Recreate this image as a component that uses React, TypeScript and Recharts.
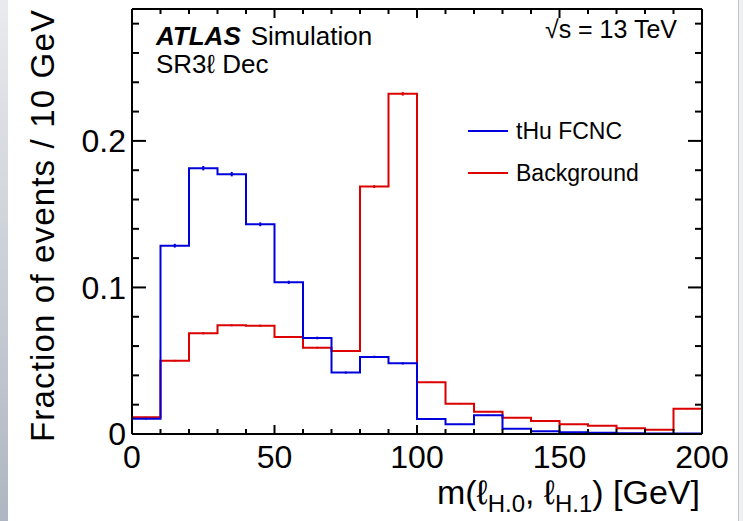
import React from 'react';
import {
  ComposedChart,
  Line,
  Scatter,
  ErrorBar,
  XAxis,
  YAxis,
  Legend,
} from 'recharts';

// m(l_H.0, l_H.1) histogram, 10 GeV bins, normalised to unit area
const binEdges = [0, 10, 20, 30, 40, 50, 60, 70, 80, 90, 100, 110, 120, 130, 140, 150, 160, 170, 180, 190, 200];
const signal = [0.0104, 0.1285, 0.1814, 0.1773, 0.1431, 0.1035, 0.0655, 0.0419, 0.0526, 0.0482, 0.0102, 0.0066, 0.0128, 0.0036, 0.0018, 0.0012, 0.0008, 0.0005, 0.0004, 0.0004];
const signalErr = [0.0006, 0.0013, 0.0015, 0.0015, 0.0013, 0.0011, 0.0009, 0.0007, 0.0008, 0.0008, 0.0004, 0.0003, 0.0004, 0.0002, 0.0001, 0.0001, 0.0001, 0.0001, 0.0001, 0.0001];
const background = [0.0114, 0.05, 0.0687, 0.0742, 0.0739, 0.0662, 0.0589, 0.0567, 0.1688, 0.2321, 0.0353, 0.0207, 0.0152, 0.0111, 0.0089, 0.0066, 0.0057, 0.0039, 0.0029, 0.0173];
const backgroundErr = [0.0003, 0.0006, 0.0007, 0.0007, 0.0007, 0.0007, 0.0006, 0.0006, 0.001, 0.0012, 0.0005, 0.0004, 0.0003, 0.0003, 0.0003, 0.0002, 0.0002, 0.0002, 0.0002, 0.0004];

const xTicks = [0, 10, 20, 30, 40, 50, 60, 70, 80, 90, 100, 110, 120, 130, 140, 150, 160, 170, 180, 190, 200];
const yTicks = [0, 0.02, 0.04, 0.06, 0.08, 0.1, 0.12, 0.14, 0.16, 0.18, 0.2, 0.22, 0.24, 0.26, 0.28];
const yLabels: Record<number, string> = { 0: '0', 10: '0.1', 20: '0.2' };

const BLUE = '#0000dc';
const RED = '#dc0000';
const FONT = '"Liberation Sans", Arial, Helvetica, sans-serif';

// step data: one point per bin edge, last edge repeats the last bin
const stepData = binEdges.map((x, i) => ({
  x,
  sig: signal[Math.min(i, signal.length - 1)],
  bg: background[Math.min(i, background.length - 1)],
}));

const centers = (vals: number[], errs: number[]) =>
  vals.map((v, i) => ({ x: binEdges[i] + 5, y: v, err: errs[i] }));

const sigPoints = centers(signal, signalErr);
const bgPoints = centers(background, backgroundErr);

const X_MARGIN = 11;
const Y_MARGIN = 6;

const BottomTick = (props: any) => {
  const { x, y, payload } = props;
  const v = payload.value;
  const major = v % 50 === 0;
  const axisY = y - X_MARGIN;
  return (
    <g>
      <line x1={x} x2={x} y1={axisY} y2={axisY - (major ? 9 : 5)} stroke="#000" strokeWidth={2} />
      {major && (
        <text x={x} y={y} dy="0.71em" textAnchor="middle" fontSize={32} fontFamily={FONT} fill="#000">
          {v}
        </text>
      )}
    </g>
  );
};

const TopTick = (props: any) => {
  const { x, y, payload } = props;
  const major = payload.value % 50 === 0;
  return <line x1={x} x2={x} y1={y} y2={y + (major ? 9 : 5)} stroke="#000" strokeWidth={2} />;
};

const LeftTick = (props: any) => {
  const { x, y, payload } = props;
  const k = Math.round(payload.value * 100);
  const major = k % 10 === 0;
  const axisX = x + Y_MARGIN;
  return (
    <g>
      <line x1={axisX} x2={axisX + (major ? 14 : 7)} y1={y} y2={y} stroke="#000" strokeWidth={2} />
      {major && (
        <text x={x} y={y} dy="0.355em" textAnchor="end" fontSize={32} fontFamily={FONT} fill="#000">
          {yLabels[k]}
        </text>
      )}
    </g>
  );
};

const RightTick = (props: any) => {
  const { x, y, payload } = props;
  const major = Math.round(payload.value * 100) % 10 === 0;
  return <line x1={x} x2={x - (major ? 14 : 7)} y1={y} y2={y} stroke="#000" strokeWidth={2} />;
};

const legendOrder = ['tHu FCNC', 'Background'];

const HistLegend = (props: any) => {
  const items = (props.payload || [])
    .filter((p: any) => legendOrder.includes(p.value))
    .sort((a: any, b: any) => legendOrder.indexOf(a.value) - legendOrder.indexOf(b.value));
  return (
    <svg width={240} height={80}>
      {items.map((p: any, i: number) => (
        <g key={p.value}>
          <line x1={2} x2={42} y1={16 + i * 42} y2={16 + i * 42} stroke={p.color} strokeWidth={2} />
          <text x={50} y={24 + i * 42} fontSize={23} fontFamily={FONT} fill="#000">
            {p.value}
          </text>
        </g>
      ))}
    </svg>
  );
};

const XTitle = (props: any) => {
  const vb = props.viewBox;
  return (
    <text x={vb.x + vb.width - 2} y={vb.y + 70} textAnchor="end" fontSize={34} fontFamily={FONT} fill="#000">
      m(ℓ
      <tspan fontSize={24} dy={8}>H.0</tspan>
      <tspan dy={-8}>, ℓ</tspan>
      <tspan fontSize={24} dy={8}>H.1</tspan>
      <tspan dy={-8}>) [GeV]</tspan>
    </text>
  );
};

const YTitle = (props: any) => {
  const vb = props.viewBox;
  const bx = 54;
  const by = vb.y + vb.height + 8;
  return (
    <text
      x={bx}
      y={by}
      transform={`rotate(-90 ${bx} ${by})`}
      textAnchor="start"
      fontSize={33}
      fontFamily={FONT}
      fill="#000"
      textLength={432}
      lengthAdjust="spacing"
    >
      Fraction of events / 10 GeV
    </text>
  );
};

export default function App() {
  return (
    <div style={{ position: 'absolute', left: 0, top: 0, width: 743, height: 521, background: '#fff' }}>
      <div
        style={{
          position: 'absolute',
          left: 0,
          top: 0,
          width: 8,
          height: 521,
          background: 'linear-gradient(#e8ebef, #aeb6c1)',
        }}
      />
      <div style={{ position: 'absolute', left: 738, top: 0, width: 1, height: 521, background: '#c4c4c4' }} />
      <div style={{ position: 'absolute', left: 739, top: 0, width: 4, height: 521, background: '#eef0f2' }} />
      <ComposedChart
        width={743}
        height={521}
        data={stepData}
        margin={{ top: 8, right: 40, bottom: 0, left: 0 }}
        style={{ position: 'absolute', left: 0, top: 0 }}
      >
        <XAxis
          dataKey="x"
          type="number"
          domain={[0, 200]}
          ticks={xTicks}
          interval={0}
          tickSize={0}
          tickMargin={X_MARGIN}
          tick={<BottomTick />}
          tickLine={false}
          axisLine={{ stroke: '#000', strokeWidth: 2 }}
          height={87}
          label={{ content: XTitle }}
        />
        <XAxis
          xAxisId="top"
          orientation="top"
          dataKey="x"
          type="number"
          domain={[0, 200]}
          ticks={xTicks}
          interval={0}
          tickSize={0}
          tickMargin={0}
          tick={<TopTick />}
          tickLine={false}
          axisLine={{ stroke: '#000', strokeWidth: 2 }}
          height={1}
        />
        <YAxis
          type="number"
          domain={[0, 0.29]}
          ticks={yTicks}
          interval={0}
          tickSize={0}
          tickMargin={Y_MARGIN}
          tick={<LeftTick />}
          tickLine={false}
          axisLine={{ stroke: '#000', strokeWidth: 2 }}
          width={132}
          allowDataOverflow
          label={{ content: YTitle }}
        />
        <YAxis
          yAxisId="right"
          orientation="right"
          type="number"
          domain={[0, 0.29]}
          ticks={yTicks}
          interval={0}
          tickSize={0}
          tickMargin={0}
          tick={<RightTick />}
          tickLine={false}
          axisLine={{ stroke: '#000', strokeWidth: 2 }}
          width={1}
          allowDataOverflow
        />
        <Line
          type="stepAfter"
          dataKey="bg"
          name="Background"
          stroke={RED}
          strokeWidth={2}
          dot={false}
          isAnimationActive={false}
        />
        <Scatter
          data={bgPoints}
          dataKey="y"
          legendType="none"
          shape={() => <g />}
          isAnimationActive={false}
        >
          <ErrorBar dataKey="err" direction="y" width={0} stroke={RED} strokeWidth={2} isAnimationActive={false} />
        </Scatter>
        <Line
          type="stepAfter"
          dataKey="sig"
          name="tHu FCNC"
          stroke={BLUE}
          strokeWidth={2}
          dot={false}
          isAnimationActive={false}
        />
        <Scatter
          data={sigPoints}
          dataKey="y"
          legendType="none"
          shape={() => <g />}
          isAnimationActive={false}
        >
          <ErrorBar dataKey="err" direction="y" width={0} stroke={BLUE} strokeWidth={2} isAnimationActive={false} />
        </Scatter>
        <Legend
          layout="vertical"
          align="center"
          verticalAlign="middle"
          content={<HistLegend />}
          wrapperStyle={{ position: 'absolute', left: 466, top: 115, width: 240, height: 80 }}
        />
      </ComposedChart>
      <svg width={743} height={521} style={{ position: 'absolute', left: 0, top: 0, pointerEvents: 'none' }}>
        <text x={156} y={45} fontSize={26} fontFamily={FONT} fill="#000">
          <tspan fontWeight="bold" fontStyle="italic">ATLAS</tspan>
          <tspan dx={10}>Simulation</tspan>
        </text>
        <text x={156} y={73} fontSize={26} fontFamily={FONT} fill="#000">
          SR3ℓ Dec
        </text>
        <text x={677} y={38} textAnchor="end" fontSize={25} fontFamily={FONT} fill="#000">
          √s = 13 TeV
        </text>
      </svg>
    </div>
  );
}
